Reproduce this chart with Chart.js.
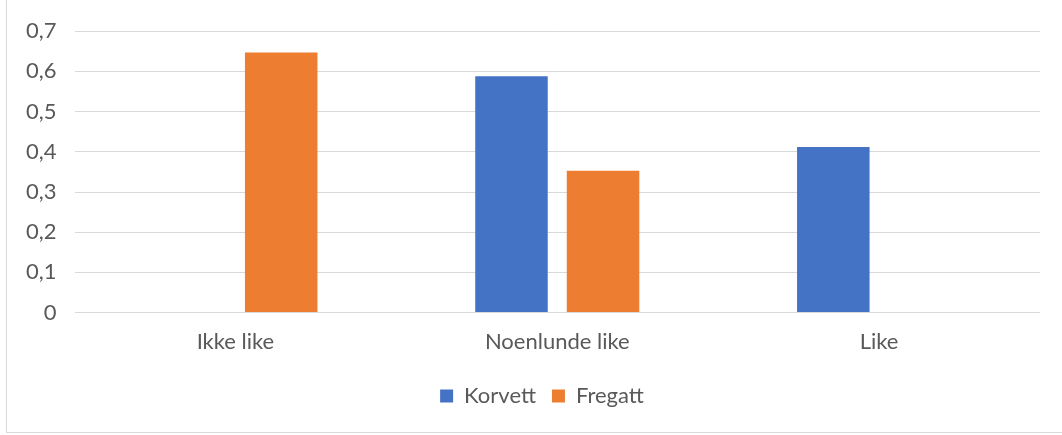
<!DOCTYPE html>
<html>
<head>
<meta charset="utf-8">
<script src="https://cdn.jsdelivr.net/npm/chart.js@4/dist/chart.umd.min.js"></script>
<style>
  html, body { margin: 0; padding: 0; background: #fff; overflow: hidden; }
  #frame { position: absolute; left: 6px; top: -1px; width: 1100px; height: 434px; border: 1px solid #d9d9d9; box-sizing: border-box; }
  #wrap { position: absolute; left: 0; top: 0; width: 1062px; height: 435px; }
</style>
</head>
<body>
<div id="frame"></div>
<div id="wrap"><canvas id="chart" width="1062" height="435"></canvas></div>
<script>
// kategorier og verdier
const categories = ["Ikke like", "Noenlunde like", "Like"];
const korvett = [0, 0.588, 0.412];
const fregatt = [0.647, 0.353, 0];
const yTicks = [0, 0.1, 0.2, 0.3, 0.4, 0.5, 0.6, 0.7];

const textColor = '#595959';
const fontFamily = 'Lato, "Open Sans", sans-serif';

// legenden litt til hoeyre, som i originalen
const legendShift = {
    id: 'legendShift',
    afterLayout(chart) {
        chart.legend.left += 18;
        chart.legend.right += 18;
    }
};

let ctx = document.getElementById('chart');
let chart = new Chart(ctx, {
    type: 'bar',
    data: {
        labels: categories,
        datasets: [{
            label: "Korvett",
            data: korvett,
            backgroundColor: '#4472C4',
            categoryPercentage: 0.569,
            barPercentage: 0.792
        }, {
            label: "Fregatt",
            data: fregatt,
            backgroundColor: '#ED7D31',
            categoryPercentage: 0.569,
            barPercentage: 0.792
        }]
    },
    plugins: [legendShift],
    options: {
        responsive: false,
        animation: false,
        layout: { padding: { left: 8, right: 22, top: -2, bottom: 18 } },
        plugins: {
            tooltip: { enabled: false },
            legend: {
                position: 'bottom',
                labels: {
                    boxWidth: 13,
                    boxHeight: 13,
                    padding: 16,
                    color: textColor,
                    font: { family: fontFamily, size: 22 }
                }
            }
        },
        scales: {
            x: {
                grid: { display: false },
                border: { display: false },
                afterFit: (axis) => { axis.height += 6; },
                ticks: { color: textColor, padding: 8, font: { family: fontFamily, size: 22 } }
            },
            y: {
                min: 0,
                max: 0.7,
                afterBuildTicks: (axis) => { axis.ticks = yTicks.map(v => ({ value: v })); },
                grid: { color: '#d9d9d9', lineWidth: 1, drawTicks: false },
                border: { display: false },
                ticks: {
                    color: textColor,
                    padding: 18,
                    font: { family: fontFamily, size: 22 },
                    callback: (v) => v === 0 ? '0' : v.toFixed(1).replace('.', ',')
                }
            }
        }
    }
});
</script>
</body>
</html>
